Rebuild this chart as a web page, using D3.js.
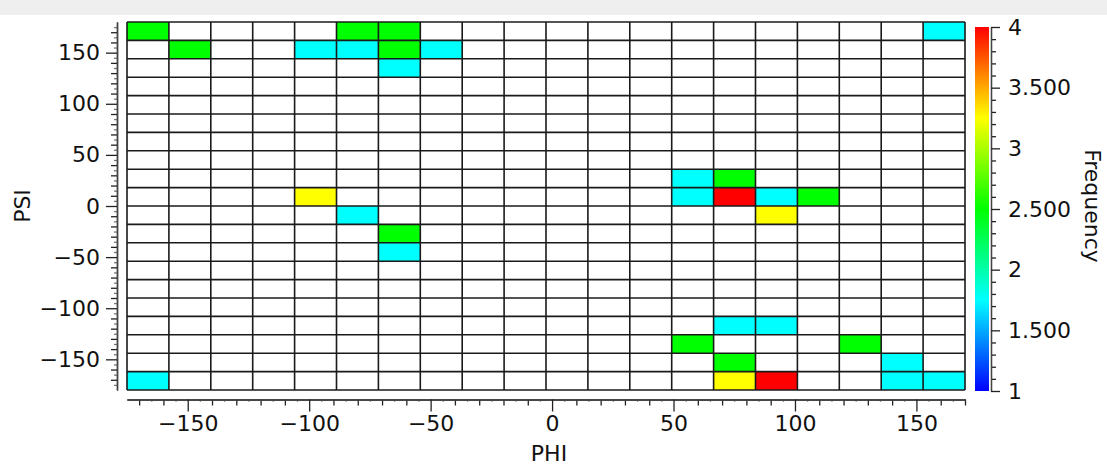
<!DOCTYPE html>
<html>
<head>
<meta charset="utf-8">
<script src="https://cdn.jsdelivr.net/npm/d3@7"></script>
<style>
  body { margin: 0; background: #fff; }
  svg { display: block; font-family: "DejaVu Sans", sans-serif; }
</style>
</head>
<body>
<svg width="1107" height="465"></svg>
<script>
// histogram bins (degrees)
const phiStart = -175, phiStep = 17.25, phiBins = 20;
const psiStart = -180, psiStep = 18, psiBins = 20;

// filled cells: bin centres and frequency
const cellPhi  = [-166.4, -80.1, -62.9, 161.4,
                  -149.1, -97.4, -80.1, -62.9, -45.6,
                  -62.9,
                  57.9, 75.1,
                  -97.4, 57.9, 75.1, 92.4, 109.6,
                  -80.1, 92.4,
                  -62.9,
                  -62.9,
                  75.1, 92.4,
                  57.9, 126.9,
                  75.1, 144.1,
                  -166.4, 75.1, 92.4, 144.1, 161.4];
const cellPsi  = [171, 171, 171, 171,
                  153, 153, 153, 153, 153,
                  135,
                  27, 27,
                  9, 9, 9, 9, 9,
                  -9, -9,
                  -27,
                  -45,
                  -117, -117,
                  -135, -135,
                  -153, -153,
                  -171, -171, -171, -171, -171];
const cellFreq = [2.5, 2.5, 2.5, 1.75,
                  2.5, 1.75, 1.75, 2.5, 1.75,
                  1.75,
                  1.75, 2.5,
                  3.25, 1.75, 4, 1.75, 2.5,
                  1.75, 3.25,
                  2.5,
                  1.75,
                  1.75, 1.75,
                  2.5, 2.5,
                  2.5, 1.75,
                  1.75, 3.25, 4, 1.75, 1.75];

const axisTicks = [-150, -100, -50, 0, 50, 100, 150];
const freqTicks = [1, 1.5, 2, 2.5, 3, 3.5, 4];
const freqTickLabels = ["1", "1.500", "2", "2.500", "3", "3.500", "4"];

const svg = d3.select("svg");

const x = d3.scaleLinear().domain([phiStart, phiStart + phiStep * phiBins]).range([127, 965]);
const y = d3.scaleLinear().domain([psiStart, psiStart + psiStep * psiBins]).range([390, 22]);
const hue = d3.scaleLinear().domain([1, 4]).range([240, 0]);
const color = v => d3.hsl(hue(v), 1, 0.5).toString();
const cy = d3.scaleLinear().domain([1, 4]).range([391, 27]);

// light strip at the top
svg.append("rect").attr("x", 0).attr("y", 0).attr("width", 1107).attr("height", 15).attr("fill", "#efefef");

// cells
const cells = cellPhi.map((p, i) => ({phi: p, psi: cellPsi[i], f: cellFreq[i]}));
svg.append("g").selectAll("rect")
  .data(cells)
  .join("rect")
  .attr("x", d => x(d.phi - phiStep / 2))
  .attr("y", d => y(d.psi + psiStep / 2))
  .attr("width", d => x(d.phi + phiStep / 2) - x(d.phi - phiStep / 2))
  .attr("height", d => y(d.psi - psiStep / 2) - y(d.psi + psiStep / 2))
  .attr("fill", d => color(d.f));

// grid
const phiEdges = d3.range(phiBins + 1).map(i => phiStart + i * phiStep);
const psiEdges = d3.range(psiBins + 1).map(i => psiStart + i * psiStep);
const grid = svg.append("g").attr("stroke", "#1a1a1a").attr("stroke-width", 1.6);
grid.selectAll(".v").data(phiEdges).join("line")
  .attr("x1", d => x(d)).attr("x2", d => x(d))
  .attr("y1", y.range()[0]).attr("y2", y.range()[1]);
grid.selectAll(".h").data(psiEdges).join("line")
  .attr("y1", d => y(d)).attr("y2", d => y(d))
  .attr("x1", x.range()[0]).attr("x2", x.range()[1]);

// axes
function styleAxis(g) {
  g.selectAll("path").attr("stroke", "#444").attr("stroke-width", 1.3);
  g.selectAll("line").attr("stroke", "#222").attr("stroke-width", 1.3);
  g.selectAll("text").attr("font-size", 22).attr("fill", "#111").attr("font-family", "DejaVu Sans, sans-serif");
}

const xFine = d3.range(-170, 171, 5).filter(d => d % 10 !== 0);
const xMinor = d3.range(-170, 171, 10).filter(d => d % 50 !== 0);

const xg = svg.append("g").attr("transform", "translate(0,399.5)");
xg.append("g").call(d3.axisBottom(x).tickValues(xFine).tickSize(2.5).tickFormat("").tickSizeOuter(0)).call(styleAxis)
  .selectAll("line").attr("stroke", "#999");
xg.append("g").call(d3.axisBottom(x).tickValues(xMinor).tickSize(6).tickFormat("").tickSizeOuter(0)).call(styleAxis);
xg.append("g").call(d3.axisBottom(x).tickValues(axisTicks).tickSize(12).tickPadding(4).tickSizeOuter(0)).call(styleAxis);

const yFine = d3.range(-175, 180, 5).filter(d => d % 10 !== 0);
const yMinor = d3.range(-170, 180, 10).filter(d => d % 50 !== 0);
const yg = svg.append("g").attr("transform", "translate(117,0)");
yg.append("g").call(d3.axisLeft(y).tickValues(yFine).tickSize(3).tickFormat("").tickSizeOuter(0)).call(styleAxis)
  .selectAll("line").attr("stroke", "#777");
yg.append("g").call(d3.axisLeft(y).tickValues(yMinor).tickSize(6).tickFormat("").tickSizeOuter(0)).call(styleAxis);
yg.append("g").call(d3.axisLeft(y).tickValues(axisTicks).tickSize(11).tickPadding(6).tickSizeOuter(0)).call(styleAxis);

// colour bar
const defs = svg.append("defs");
const grad = defs.append("linearGradient").attr("id", "cbar")
  .attr("x1", 0).attr("y1", 1).attr("x2", 0).attr("y2", 0);
grad.selectAll("stop").data(d3.range(0, 1.0001, 0.05)).join("stop")
  .attr("offset", d => d)
  .attr("stop-color", d => color(1 + 3 * d));
svg.append("rect").attr("x", 975).attr("y", cy(4)).attr("width", 14)
  .attr("height", cy(1) - cy(4)).attr("fill", "url(#cbar)");

const cMinor = d3.range(1, 4.001, 0.1).map(d => +d.toFixed(1)).filter(d => !freqTicks.includes(d));
const cg = svg.append("g").attr("transform", "translate(991,0)");
cg.append("g").call(d3.axisRight(cy).tickValues(cMinor).tickSize(5).tickFormat("").tickSizeOuter(0)).call(styleAxis);
cg.append("g").call(d3.axisRight(cy).tickValues(freqTicks).tickSize(9).tickPadding(8)
  .tickFormat((d, i) => freqTickLabels[i]).tickSizeOuter(0)).call(styleAxis);

// titles
svg.append("text").attr("x", 549).attr("y", 461).attr("text-anchor", "middle")
  .attr("font-size", 22).attr("fill", "#111").text("PHI");
svg.append("text").attr("transform", "translate(30,206) rotate(-90)").attr("text-anchor", "middle")
  .attr("font-size", 22).attr("fill", "#111").text("PSI");
svg.append("text").attr("transform", "translate(1085,206) rotate(90)").attr("text-anchor", "middle")
  .attr("font-size", 22).attr("fill", "#111").text("Frequency");
</script>
</body>
</html>
